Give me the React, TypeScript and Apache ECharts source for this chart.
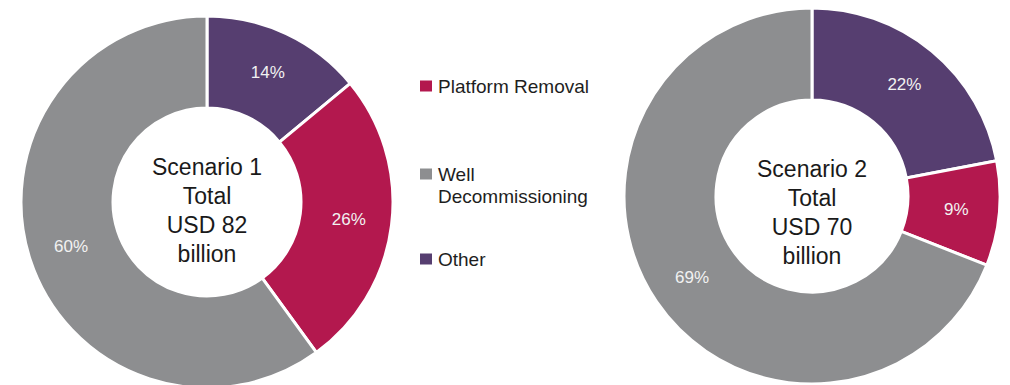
import React, { useEffect, useRef } from "react";
import * as echarts from "echarts";

const categories = ["Other", "Platform Removal", "Well Decommissioning"];
const legendOrder = ["Platform Removal", "Well Decommissioning", "Other"];
const scenario1Values = [14, 26, 60];
const scenario2Values = [22, 9, 69];
const scenario1Label = "Scenario 1\nTotal\nUSD 82\nbillion";
const scenario2Label = "Scenario 2\nTotal\nUSD 70\nbillion";
const colors: Record<string, string> = {
  "Other": "#563e70",
  "Platform Removal": "#b3184e",
  "Well Decommissioning": "#8d8e90",
};

const FONT = "'Liberation Sans', Arial, Helvetica, sans-serif";

function buildData(values: number[]) {
  return categories.map((name, i) => ({
    name,
    value: values[i],
    itemStyle: { color: colors[name] },
  }));
}

function pieSeries(values: number[], center: [number, number], radius: [number, number]) {
  return {
    type: "pie",
    center,
    radius,
    startAngle: 90,
    clockwise: true,
    avoidLabelOverlap: false,
    data: buildData(values),
    itemStyle: { borderColor: "#ffffff", borderWidth: 3 },
    label: {
      show: true,
      position: "inside",
      formatter: "{c}%",
      color: "#f2f2f2",
      fontSize: 17,
      fontFamily: FONT,
    },
    labelLine: { show: false },
    emphasis: { disabled: true },
  };
}

function legendFor(name: string, top: number) {
  return {
    data: [name],
    orient: "vertical",
    left: 418,
    top,
    padding: 0,
    icon: "rect",
    itemWidth: 14,
    itemHeight: 13,
    formatter: (n: string) => (n === "Well Decommissioning" ? " \nWell\nDecommissioning" : n),
    textStyle: { fontSize: 19, lineHeight: 22, color: "#1e1e1e", fontFamily: FONT },
  };
}

export default function App() {
  const ref = useRef<HTMLDivElement>(null);
  useEffect(() => {
    if (!ref.current) return;
    const chart = echarts.init(ref.current, undefined, { renderer: "svg" });
    chart.setOption({
      animation: false,
      color: legendOrder.map((n) => colors[n]),
      legend: [
        legendFor(legendOrder[0], 75),
        legendFor(legendOrder[1], 141),
        legendFor(legendOrder[2], 248),
      ],
      series: [
        pieSeries(scenario1Values, [207, 202], [94, 186]),
        pieSeries(scenario2Values, [812, 196], [96, 188]),
      ],
      graphic: [
        {
          type: "text",
          x: 207,
          y: 210,
          style: {
            text: scenario1Label,
            fontSize: 23,
            lineHeight: 29,
            fontFamily: FONT,
            fill: "#1a1a1a",
            align: "center",
            verticalAlign: "middle",
          },
        },
        {
          type: "text",
          x: 812,
          y: 212,
          style: {
            text: scenario2Label,
            fontSize: 23,
            lineHeight: 29,
            fontFamily: FONT,
            fill: "#1a1a1a",
            align: "center",
            verticalAlign: "middle",
          },
        },
      ],
    });
    return () => chart.dispose();
  }, []);
  return (
    <div style={{ position: "absolute", left: 0, top: 0, width: 1010, height: 385, background: "#ffffff" }}>
      <div ref={ref} style={{ width: 1010, height: 385 }} />
    </div>
  );
}
